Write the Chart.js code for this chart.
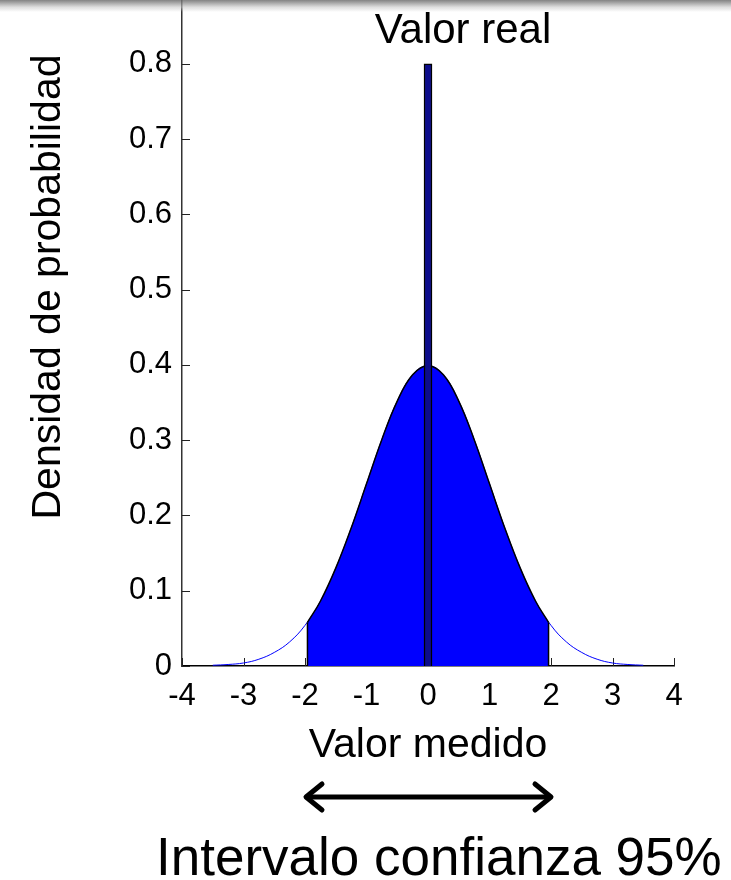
<!DOCTYPE html>
<html>
<head>
<meta charset="utf-8">
<script src="https://cdn.jsdelivr.net/npm/chart.js@4.4.1/dist/chart.umd.min.js"></script>
<style>
    body { margin: 0; width: 731px; height: 880px; overflow: hidden; background: #fff; position: relative; font-family: "Liberation Sans", Arial, sans-serif; }
    #chartBox { position: absolute; left: 0; top: -40px; width: 731px; height: 840px; }
    .lbl { position: absolute; color: #000; white-space: nowrap; }
    #topBand { position: absolute; left: 0; top: 0; width: 731px; height: 12px;
        background: linear-gradient(rgba(110,110,110,0.85), rgba(200,200,200,0.6) 60%, rgba(255,255,255,0)); }
</style>
</head>
<body>
<div id="chartBox"><canvas id="densityChart"></canvas></div>
<div id="topBand"></div>
<div class="lbl" style="left:0; width:926px; top:5px; font-size:42px; text-align:center;">Valor real</div>
<div class="lbl" style="left:-194px; top:263px; width:480px; height:48px; line-height:48px; font-size:41px; text-align:center; transform:rotate(-90deg);">Densidad de probabilidad</div>
<svg style="position:absolute; left:0; top:0;" width="731" height="880">
    <g stroke="#000" stroke-width="5" stroke-linecap="round" stroke-linejoin="round" fill="none">
        <line x1="307" y1="797" x2="550" y2="797"/>
        <polyline points="322,784 306,797 322,810"/>
        <polyline points="535,784 551,797 535,810"/>
    </g>
</svg>
<div class="lbl" style="left:156px; top:827px; font-size:53px; line-height:60px;">Intervalo confianza 95%</div>

<script>
// Normal density
const curveX = [-3.5, -3.25, -3, -2.75, -2.5, -2.25, -2, -1.75, -1.5, -1.25, -1, -0.75, -0.5, -0.25, 0,
                0.25, 0.5, 0.75, 1, 1.25, 1.5, 1.75, 2, 2.25, 2.5, 2.75, 3, 3.25, 3.5];
const curveY = [0.001, 0.002, 0.004, 0.009, 0.018, 0.032, 0.054, 0.086, 0.130, 0.183, 0.242, 0.301, 0.352, 0.387, 0.399,
                0.387, 0.352, 0.301, 0.242, 0.183, 0.130, 0.086, 0.054, 0.032, 0.018, 0.009, 0.004, 0.002, 0.001];

// Shaded 95% band
const bandX = [-1.96, -1.75, -1.5, -1.25, -1, -0.75, -0.5, -0.25, 0, 0.25, 0.5, 0.75, 1, 1.25, 1.5, 1.75, 1.96];
const bandY = [0.058, 0.086, 0.130, 0.183, 0.242, 0.301, 0.352, 0.387, 0.399, 0.387, 0.352, 0.301, 0.242, 0.183, 0.130, 0.086, 0.058];

// True value bar
const trueValue = 0;
const trueHeight = 0.8;

// Axis ticks
const xTicks = [-4, -3, -2, -1, 0, 1, 2, 3, 4];
const yTicks = [0, 0.1, 0.2, 0.3, 0.4, 0.5, 0.6, 0.7, 0.8, 0.9];

const toPoints = (xs, ys) => xs.map((x, i) => ({ x: x, y: ys[i] }));

// inward tick marks, drawn under the data
const innerTicks = {
    id: 'innerTicks',
    beforeDatasetsDraw(chart) {
        const { ctx, scales: { x, y } } = chart;
        ctx.save();
        ctx.strokeStyle = '#222';
        ctx.lineWidth = 1;
        ctx.beginPath();
        xTicks.forEach(v => {
            const px = Math.round(x.getPixelForValue(v)) + 0.5;
            ctx.moveTo(px, y.bottom);
            ctx.lineTo(px, y.bottom - 8);
        });
        yTicks.forEach(v => {
            const py = Math.round(y.getPixelForValue(v)) + 0.5;
            ctx.moveTo(x.left, py);
            ctx.lineTo(x.left + 8, py);
        });
        ctx.stroke();
        ctx.restore();
    }
};

new Chart(document.getElementById('densityChart'), {
    type: 'line',
    data: {
        datasets: [
            {
                type: 'bar',
                data: [{ x: trueValue, y: trueHeight }],
                backgroundColor: '#0c0c8c',
                borderColor: '#000',
                borderWidth: 1.5,
                barThickness: 8,
                order: 0
            },
            {
                data: toPoints([bandX[0], bandX[0]], [0, bandY[0]]),
                borderColor: '#000',
                borderWidth: 1.5,
                pointRadius: 0,
                order: 1
            },
            {
                data: toPoints([bandX[bandX.length - 1], bandX[bandX.length - 1]], [0, bandY[bandY.length - 1]]),
                borderColor: '#000',
                borderWidth: 1.5,
                pointRadius: 0,
                order: 1
            },
            {
                data: toPoints(bandX, bandY),
                borderColor: '#000',
                borderWidth: 1.5,
                backgroundColor: '#0000ff',
                fill: 'origin',
                pointRadius: 0,
                tension: 0.4,
                order: 2
            },
            {
                data: toPoints(curveX, curveY),
                borderColor: '#0000ff',
                borderWidth: 1,
                pointRadius: 0,
                tension: 0.4,
                order: 3
            }
        ]
    },
    options: {
        responsive: true,
        maintainAspectRatio: false,
        animation: false,
        layout: { padding: { left: 0, right: 57, top: 28, bottom: 30 } },
        plugins: {
            legend: { display: false },
            tooltip: { enabled: false }
        },
        scales: {
            x: {
                type: 'linear',
                min: -4,
                max: 4,
                offset: false,
                afterFit: s => { s.height = 104; },
                grid: { display: false, drawTicks: false },
                border: { display: true, color: '#000', width: 1.5 },
                afterBuildTicks: s => { s.ticks = xTicks.map(v => ({ value: v })); },
                ticks: { color: '#000', padding: 12, font: { family: 'Liberation Sans', size: 31 } },
                title: {
                    display: true,
                    text: 'Valor medido',
                    color: '#000',
                    font: { family: 'Liberation Sans', size: 41 },
                    padding: { top: 0, bottom: 0 }
                }
            },
            y: {
                min: 0,
                max: 0.9,
                afterFit: s => { s.width = 182; },
                grid: { display: false, drawTicks: false },
                border: { display: true, color: '#333', width: 1.5 },
                afterBuildTicks: s => { s.ticks = yTicks.map(v => ({ value: v })); },
                ticks: { color: '#000', padding: 10, font: { family: 'Liberation Sans', size: 31 } }
            }
        }
    },
    plugins: [innerTicks]
});
</script>
</body>
</html>
